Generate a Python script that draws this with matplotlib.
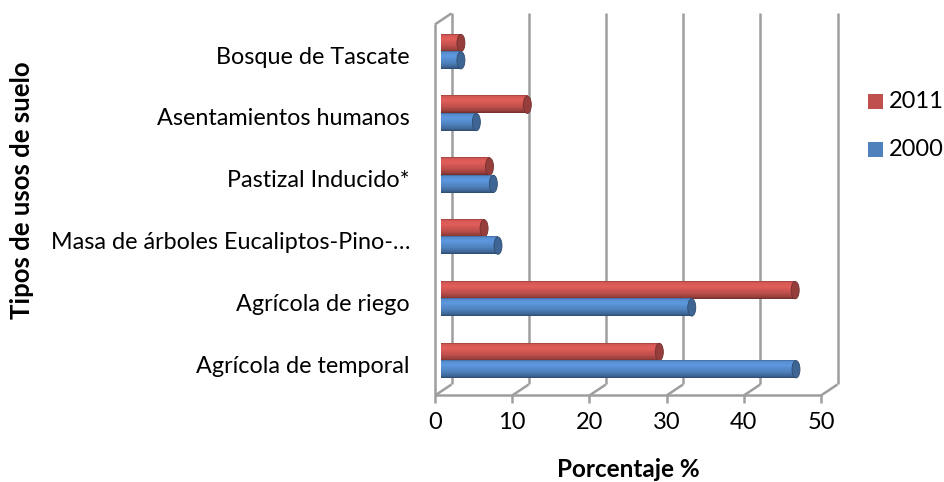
import numpy as np
import matplotlib
matplotlib.use("Agg")
import matplotlib.pyplot as plt
from matplotlib.patches import Ellipse, Rectangle

plt.rcParams['font.family'] = ['Lato', 'DejaVu Sans']

# data (percent), bottom category first
categories = ["Agrícola de temporal", "Agrícola de riego",
              "Masa de árboles Eucaliptos-Pino-…", "Pastizal Inducido*",
              "Asentamientos humanos", "Bosque de Tascate"]
values_2000 = [46.5, 33.0, 7.9, 7.3, 5.1, 3.1]
values_2011 = [28.8, 46.4, 6.1, 6.8, 11.7, 3.1]
series_names = ["2011", "2000"]
xticks = [0, 10, 20, 30, 40, 50]

BLUE = np.array([0x4F, 0x81, 0xBD]) / 255
RED = np.array([0xC0, 0x50, 0x4D]) / 255
GRID = "#9E9E9E"

W, H = 944, 482
fig = plt.figure(figsize=(W / 100, H / 100), dpi=100)

# axes = plane in which the bars sit
px_left, px_right = 441, 827
ax = fig.add_axes([px_left / W, (H - 398) / H, (px_right - px_left) / W, 385 / H])
XPX = (px_right - px_left) / 50.0
YPX = 61.8
ax.set_xlim(0, 50)
ax.set_ylim(-0.605, 5.625)
ax.axis('off')

floor, top = -0.475, 5.53


def front(x, y):
    return x - 6 / XPX, y - 5.5 / YPX


def back(x, y):
    return x + 10.5 / XPX, y + 5.5 / YPX


line_kw = dict(color=GRID, lw=1.8, clip_on=False, solid_capstyle='butt')

# back wall gridlines
for t in xticks:
    (bx0, by0), (bx1, by1) = back(t, floor), back(t, top)
    ax.plot([bx0, bx1], [by0, by1], zorder=1, **line_kw)

# floor: front edge, depth lines and ticks
(fx0, fy0), (fx1, fy1) = front(0, floor), front(50, floor)
ax.plot([fx0, fx1], [fy0, fy1], zorder=1, **line_kw)
for t in xticks:
    fx, fy = front(t, floor)
    bx, by = back(t, floor)
    ax.plot([fx, bx], [fy, by], zorder=1, **line_kw)
    ax.plot([fx, fx], [fy, fy - 8 / YPX], zorder=1, **line_kw)
    ax.text(fx, fy - 17 / YPX, str(t), ha='center', va='top', fontsize=17)

# left wall
(lx0, ly0), (lx1, ly1) = front(0, floor), front(0, top)
ax.plot([lx0, lx1], [ly0, ly1], zorder=1, **line_kw)
bx, by = back(0, top)
ax.plot([lx1, bx], [ly1, by], zorder=1, **line_kw)

# category labels on the front plane
for i, name in enumerate(categories):
    fx, fy = front(0, i)
    ax.text(fx - 25 / XPX, fy, name, ha='right', va='center', fontsize=16.8)


def shade(base, n=40):
    t = np.linspace(0, 1, n)
    f = np.interp(t, [0, 0.06, 0.28, 0.65, 0.9, 1.0], [0.8, 1.1, 1.18, 1.0, 0.78, 0.58])
    col = np.clip(base[None, :] * f[:, None], 0, 1)
    return np.repeat(col[:, None, :], 2, axis=1)


def cylinder(y, v, h, base, z):
    capw = 8 / XPX
    x1 = max(v - capw / 2, capw / 2)
    ax.imshow(shade(base), extent=[0, x1, y - h / 2, y + h / 2],
              aspect='auto', origin='upper', zorder=z, interpolation='bilinear')
    ax.add_patch(Ellipse((x1, y), capw, h, facecolor=base * 0.78,
                         edgecolor=base * 0.6, lw=0.6, zorder=z + 0.2))


bh = 0.28
for i in range(len(categories)):
    cylinder(i + 0.14, values_2011[i], bh, RED, 3 + i * 0.01)
    cylinder(i - 0.14, values_2000[i], bh, BLUE, 4 + i * 0.01)

ax.set_xlim(0, 50)
ax.set_ylim(-0.605, 5.625)

# axis titles
fig.text(22 / W, 1 - 190 / H, "Tipos de usos de suelo", rotation=90,
         ha='center', va='center', fontsize=18.5, fontweight='bold')
fig.text(628 / W, 1 - 477 / H, "Porcentaje %", ha='center', va='baseline',
         fontsize=17.5, fontweight='bold')

# legend
for name, col, yc in zip(series_names, [RED, BLUE], [101, 149]):
    fig.patches.append(Rectangle((868 / W, 1 - (yc + 7.5) / H), 15 / W, 15 / H,
                                 transform=fig.transFigure, facecolor=col,
                                 edgecolor='none'))
    fig.text(889 / W, 1 - yc / H, name, ha='left', va='center', fontsize=17)

fig.savefig("out.png", dpi=100)
